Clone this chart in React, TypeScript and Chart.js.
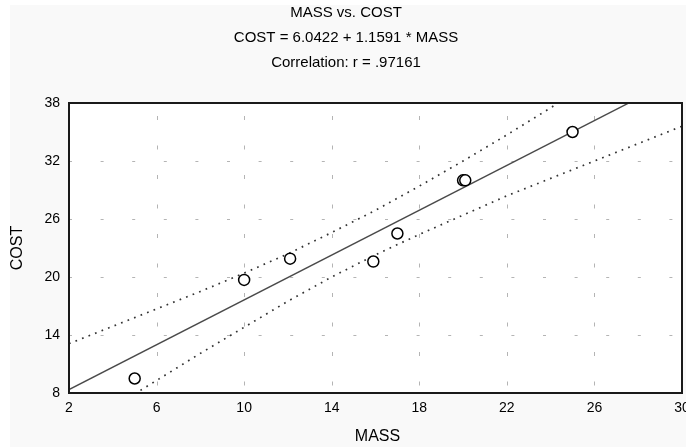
import React, { useEffect, useRef } from "react";
import { Chart, registerables } from "chart.js";

Chart.register(...registerables);

const massValues = [5, 10, 12.1, 15.9, 17, 20, 20.1, 25];
const costValues = [9.5, 19.7, 21.9, 21.6, 24.5, 30.0, 30.0, 35.0];

// Fitted line end points (from COST = 6.0422 + 1.1591 * MASS)
const fitMass = [2, 30];
const fitCost = [8.36, 40.82];

// Dotted confidence bands
const bandMass = [2, 4, 6, 8, 10, 12, 14, 16, 18, 20, 22, 24, 26, 28, 30];
const upperBand = [13.1, 14.9, 16.7, 18.5, 20.4, 22.4, 24.6, 26.9, 29.4, 32.0, 34.7, 37.5, 40.4, 43.2, 46.1];
const lowerBand = [3.7, 6.5, 9.3, 12.1, 14.8, 17.5, 20.0, 22.3, 24.4, 26.4, 28.4, 30.2, 32.0, 33.8, 35.6];

const xTicks = [2, 6, 10, 14, 18, 22, 26, 30];
const yTicks = [8, 14, 20, 26, 32, 38];

const titleLines = ["MASS vs. COST", "COST = 6.0422 + 1.1591 * MASS", "Correlation: r = .97161"];
const xTitle = "MASS";
const yTitle = "COST";

const FONT = "'Liberation Sans', Arial, Helvetica, sans-serif";

const pairs = (xs: number[], ys: number[]) => xs.map((x, i) => ({ x, y: ys[i] }));

const decorPlugin = {
  id: "decor",
  beforeDraw(chart: any) {
    const { ctx, width, height, chartArea } = chart;
    ctx.save();
    ctx.fillStyle = "#ffffff";
    ctx.fillRect(0, 0, width, height);
    ctx.fillStyle = "#f9f9f9";
    ctx.fillRect(10, 5, width - 10, height - 5);
    ctx.fillStyle = "#ffffff";
    ctx.fillRect(chartArea.left, chartArea.top, chartArea.right - chartArea.left, chartArea.bottom - chartArea.top);
    ctx.restore();
  },
  beforeDatasetsDraw(chart: any) {
    const { ctx, chartArea, scales } = chart;
    const xs = scales.x;
    const ys = scales.y;
    ctx.save();
    ctx.strokeStyle = "#b4b4b4";
    ctx.lineWidth = 1;
    ctx.setLineDash([3, 28.6]);
    yTicks.forEach((v) => {
      if (v <= ys.min || v >= ys.max) return;
      const py = Math.round(ys.getPixelForValue(v)) + 0.5;
      ctx.beginPath();
      ctx.moveTo(chartArea.left, py);
      ctx.lineTo(chartArea.right, py);
      ctx.stroke();
    });
    ctx.setLineDash([4, 25.5]);
    xTicks.forEach((v) => {
      if (v <= xs.min || v >= xs.max) return;
      const px = Math.round(xs.getPixelForValue(v)) + 0.5;
      ctx.beginPath();
      ctx.moveTo(px, chartArea.top + 13);
      ctx.lineTo(px, chartArea.bottom);
      ctx.stroke();
    });
    ctx.restore();
  },
  afterDatasetsDraw(chart: any) {
    const { ctx, chartArea } = chart;
    ctx.save();
    ctx.strokeStyle = "#1a1a1a";
    ctx.lineWidth = 2;
    ctx.strokeRect(chartArea.left, chartArea.top, chartArea.right - chartArea.left, chartArea.bottom - chartArea.top);
    ctx.restore();
  },
  afterDraw(chart: any) {
    const { ctx, chartArea } = chart;
    ctx.save();
    ctx.fillStyle = "#000000";
    ctx.textAlign = "center";
    ctx.textBaseline = "middle";
    ctx.font = `15px ${FONT}`;
    titleLines.forEach((t, i) => ctx.fillText(t, 346, 13 + i * 25));
    ctx.font = `16px ${FONT}`;
    ctx.fillText(xTitle, (chartArea.left + chartArea.right) / 2 + 2, 437);
    ctx.translate(18, 248);
    ctx.rotate(-Math.PI / 2);
    ctx.fillText(yTitle, 0, 0);
    ctx.restore();
  },
};

export default function App() {
  const canvasRef = useRef<HTMLCanvasElement | null>(null);

  useEffect(() => {
    document.body.style.margin = "0";
    const canvas = canvasRef.current;
    if (!canvas) return;
    const chart = new Chart(canvas, {
      type: "scatter",
      data: {
        datasets: [
          {
            label: "Observed",
            data: pairs(massValues, costValues),
            showLine: false,
            pointStyle: "circle",
            pointRadius: 5.5,
            pointBorderWidth: 1.5,
            pointBorderColor: "#000000",
            pointBackgroundColor: "#ffffff",
            borderColor: "#000000",
            backgroundColor: "#ffffff",
          },
          {
            label: "Fit",
            data: pairs(fitMass, fitCost),
            showLine: true,
            pointRadius: 0,
            borderColor: "#4a4a4a",
            borderWidth: 1.4,
          },
          {
            label: "Upper",
            data: pairs(bandMass, upperBand),
            showLine: true,
            pointRadius: 0,
            borderColor: "#333333",
            borderWidth: 1.7,
            borderDash: [1.7, 5.3],
          },
          {
            label: "Lower",
            data: pairs(bandMass, lowerBand),
            showLine: true,
            pointRadius: 0,
            borderColor: "#333333",
            borderWidth: 1.7,
            borderDash: [1.7, 5.3],
          },
        ],
      },
      options: {
        responsive: false,
        animation: false,
        devicePixelRatio: 1,
        layout: { autoPadding: false, padding: { left: 0, top: 103, right: 4, bottom: 0 } },
        plugins: { legend: { display: false }, tooltip: { enabled: false }, title: { display: false } },
        scales: {
          x: {
            type: "linear",
            min: 2,
            max: 30,
            afterBuildTicks: (s: any) => {
              s.ticks = xTicks.map((v) => ({ value: v }));
            },
            afterFit: (s: any) => {
              s.height = 54;
              s.paddingLeft = 0;
              s.paddingRight = 0;
            },
            ticks: { color: "#000", font: { family: FONT, size: 14 }, padding: 7, maxRotation: 0, autoSkip: false },
            grid: { display: false, drawTicks: false },
            border: { display: false },
          },
          y: {
            type: "linear",
            min: 8,
            max: 38,
            afterBuildTicks: (s: any) => {
              s.ticks = yTicks.map((v) => ({ value: v }));
            },
            afterFit: (s: any) => {
              s.width = 69;
              s.paddingTop = 0;
              s.paddingBottom = 0;
            },
            ticks: { color: "#000", font: { family: FONT, size: 14 }, padding: 9, autoSkip: false },
            grid: { display: false, drawTicks: false },
            border: { display: false },
          },
        },
      },
      plugins: [decorPlugin],
    });
    return () => chart.destroy();
  }, []);

  return <canvas ref={canvasRef} width={686} height={447} style={{ display: "block", width: 686, height: 447 }} />;
}
